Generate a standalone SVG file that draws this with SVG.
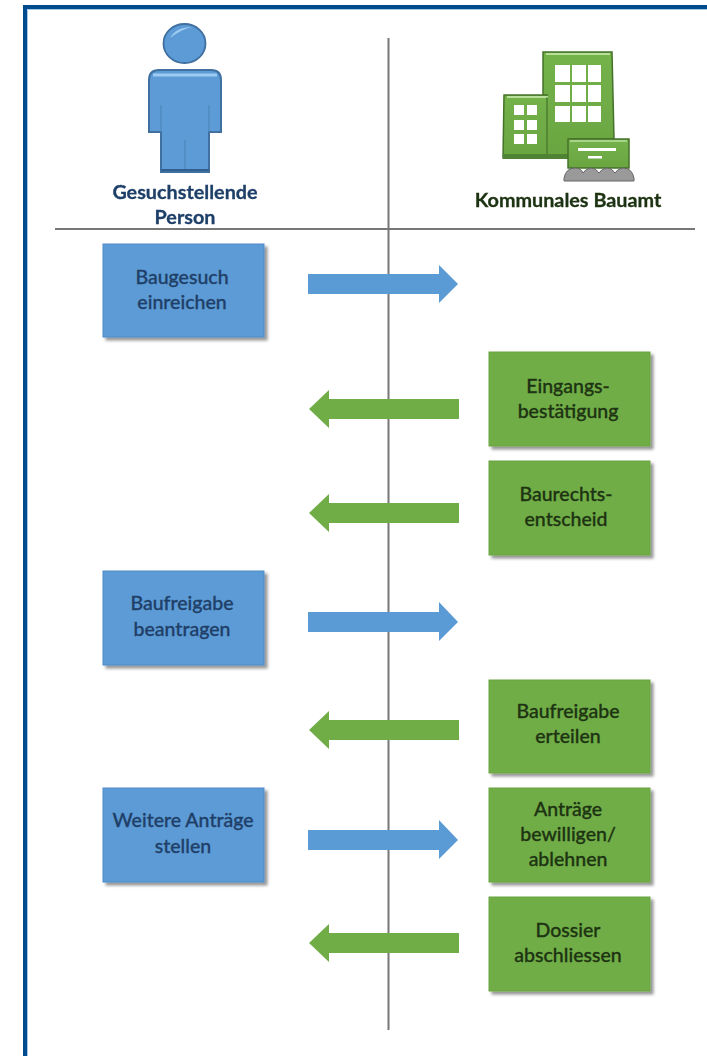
<svg xmlns="http://www.w3.org/2000/svg" width="707" height="1056" viewBox="0 0 707 1056">
<style>
text{font-family:"Lato","Open Sans",sans-serif;font-size:19.500px;text-anchor:middle;font-weight:500;stroke-width:.3px}
.h{font-size:19.800px;font-weight:700}
.bt{fill:#1f3f68;stroke:#1f3f68}.gt{fill:#1d3312;stroke:#1d3312}
.b{fill:#5b9bd5;stroke:#4a8cc8;stroke-width:1}
.g{fill:#70ad47;stroke:#68a540;stroke-width:1}
.ab{fill:#5b9bd5}.ag{fill:#70ad47}
.line{stroke:#777;stroke-width:2;fill:none}
.win{fill:#fff}
</style>
<defs>
<filter id="s" x="-10%" y="-10%" width="125%" height="125%"><feDropShadow dx="3" dy="3" stdDeviation="1.800" flood-color="#000" flood-opacity=".42"/></filter>
<filter id="blur" x="-5%" y="-5%" width="110%" height="110%"><feGaussianBlur stdDeviation=".55"/></filter>
<linearGradient id="gg" x1="0" y1="0" x2="0" y2="1"><stop offset="0" stop-color="#74b24a"/><stop offset="1" stop-color="#6aa541"/></linearGradient>
</defs>
<rect width="707" height="1056" fill="#fff"/>
<path d="M25 1056V7H707" fill="none" stroke="#004b8d" stroke-width="4"/>
<path d="M27.500 1056V9.500H707" fill="none" stroke="#a9c8e6" stroke-width="1"/>
<g id="connectors">
<path class="line" d="M388.500 38V1030"/>
<path class="line" d="M55 229H695"/>
<path class="ab" d="M308 274H439V265L458 284 439 303V294H308Z"/>
<path class="ag" d="M459 399H329V390L309 409 329 428V419H459Z"/>
<path class="ag" d="M459 503H329V494L309 513 329 532V523H459Z"/>
<path class="ab" d="M308 612H439V602L458 622 439 641V632H308Z"/>
<path class="ag" d="M459 720H329V711L309 730 329 749V740H459Z"/>
<path class="ab" d="M308 830H439V820L458 840 439 859V850H308Z"/>
<path class="ag" d="M459 933H329V924L309 943 329 962V953H459Z"/>
</g>
<g id="person" filter="url(#blur)">
<ellipse cx="184.500" cy="43.500" rx="21" ry="19.500" fill="#5b9bd5" stroke="#3f6f9f" stroke-width="1.800"/>
<path d="M170 38Q176 27 192 27Q182 29 170 38Z" fill="#9fcbf2"/>
<path d="M149 80Q149 70 159 70H211Q221 70 221 80V132H209V172H161V132H149Z" fill="#5b9bd5" stroke="#3f6f9f" stroke-width="2"/>
<path d="M153 75H217" stroke="#9fcbf2" stroke-width="3"/>
<path d="M161 105V132M209 105V132M185 140V171" stroke="#4a82b8" stroke-width="1"/>
<path d="M161 170H209" stroke="#2f5f8f" stroke-width="2"/>
<text x="185" y="199" class="bt h">Gesuchstellende</text>
<text x="185" y="224" class="bt h">Person</text>
</g>
<g id="bauamt" filter="url(#blur)">
<path d="M543 52H612L614 139H570V158H543Z" fill="url(#gg)" stroke="#45722a" stroke-width="1.500"/>
<path d="M504 95H547V158H503Z" fill="url(#gg)" stroke="#45722a" stroke-width="1.500"/>
<path d="M503 154H570V159H503Z" fill="#4e8330"/>
<path d="M546 54H610M507 97H548" stroke="#b8e09b" stroke-width="2"/>
<path d="M547 97V154" stroke="#5b9239" stroke-width="1"/>
<g class="win">
<rect x="555" y="65" width="15" height="17"/><rect x="572" y="65" width="14" height="17"/><rect x="588" y="65" width="13" height="17"/>
<rect x="555" y="85" width="15" height="17"/><rect x="572" y="85" width="14" height="17"/><rect x="588" y="85" width="13" height="17"/>
<rect x="555" y="106" width="15" height="16"/><rect x="572" y="106" width="14" height="16"/><rect x="588" y="106" width="13" height="16"/>
<rect x="514" y="105" width="10" height="10"/><rect x="527" y="105" width="10" height="10"/>
<rect x="514" y="120" width="10" height="10"/><rect x="527" y="120" width="10" height="10"/>
<rect x="514" y="134" width="10" height="10"/><rect x="527" y="134" width="10" height="10"/>
</g>
<path d="M568 139H629V168H568Z" fill="url(#gg)" stroke="#45722a" stroke-width="1.500"/>
<path d="M570 141H627" stroke="#b8e09b" stroke-width="1.500"/>
<rect x="578" y="148" width="38" height="3" fill="#fff"/><rect x="588" y="156" width="14" height="2.500" fill="#fff"/>
<path d="M564 181V178Q566 168 575 168Q581 168 583 173Q586 168 591 168Q596 168 599 173Q602 168 607 168Q612 168 615 173Q618 168 623 168Q632 168 634 178V181Z" fill="#9a9a9a" stroke="#666"/>
<text x="568" y="207" class="gt h">Kommunales Bauamt</text>
</g>
<g id="n1"><rect class="b" x="103" y="244" width="161" height="93" filter="url(#s)"/><text class="bt" x="182" y="284">Baugesuch</text><text class="bt" x="182" y="309">einreichen</text></g>
<g id="n2"><rect class="g" x="489" y="352" width="161" height="94" filter="url(#s)"/><text class="gt" x="568" y="393">Eingangs-</text><text class="gt" x="568" y="418">bestätigung</text></g>
<g id="n3"><rect class="g" x="489" y="461" width="161" height="94" filter="url(#s)"/><text class="gt" x="566" y="501">Baurechts-</text><text class="gt" x="566" y="526">entscheid</text></g>
<g id="n4"><rect class="b" x="103" y="571" width="161" height="94" filter="url(#s)"/><text class="bt" x="182" y="610">Baufreigabe</text><text class="bt" x="182" y="636">beantragen</text></g>
<g id="n5"><rect class="g" x="489" y="680" width="161" height="93" filter="url(#s)"/><text class="gt" x="568" y="718">Baufreigabe</text><text class="gt" x="568" y="743">erteilen</text></g>
<g id="n6"><rect class="b" x="103" y="788" width="161" height="94" filter="url(#s)"/><text class="bt" x="183" y="827">Weitere Anträge</text><text class="bt" x="183" y="853">stellen</text></g>
<g id="n7"><rect class="g" x="489" y="788" width="161" height="94" filter="url(#s)"/><text class="gt" x="568" y="816">Anträge</text><text class="gt" x="568" y="841">bewilligen/</text><text class="gt" x="568" y="866">ablehnen</text></g>
<g id="n8"><rect class="g" x="489" y="897" width="161" height="94" filter="url(#s)"/><text class="gt" x="568" y="937">Dossier</text><text class="gt" x="568" y="962">abschliessen</text></g>
</svg>
